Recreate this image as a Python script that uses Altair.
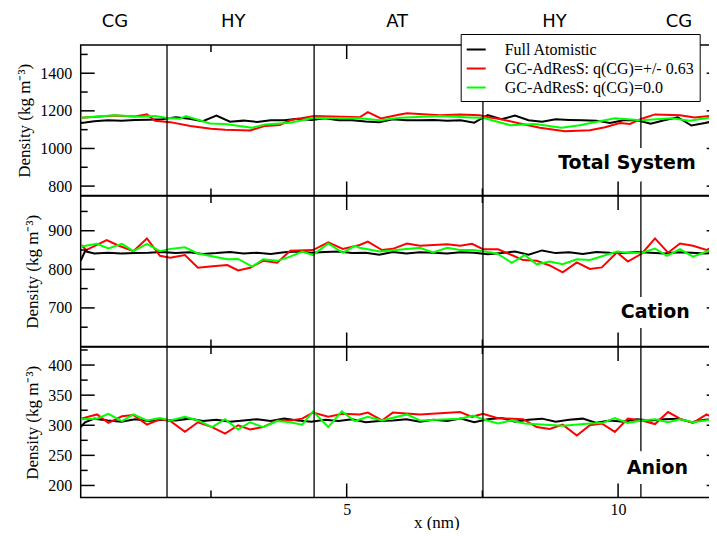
import altair as alt
import pandas as pd

SERIES = ["Full Atomistic", "GC-AdResS: q(CG)=+/- 0.63", "GC-AdResS: q(CG)=0.0"]
COLORS = ["#000000", "#ff0000", "#00ff00"]

REGION_LABELS = ["CG", "HY", "AT", "HY", "CG"]
REGION_LABEL_X = [0.73, 2.91, 5.93, 8.83, 11.12]
BOUNDARIES = [1.69, 4.40, 7.51, 10.42]

# Full atomistic (black) — common x grid
x_fa = [0.10, 0.18, 0.35, 0.60, 0.85, 1.10, 1.35, 1.60, 1.85, 2.10, 2.35, 2.60, 2.85, 3.10, 3.35,
        3.60, 3.85, 4.10, 4.35, 4.60, 4.85, 5.10, 5.35, 5.60, 5.85, 6.10, 6.35, 6.60, 6.85, 7.10,
        7.35, 7.60, 7.85, 8.10, 8.35, 8.60, 8.85, 9.10, 9.35, 9.60, 9.85, 10.10, 10.35, 10.60,
        10.85, 11.10, 11.35, 11.60, 11.85]
tot_fa = [1136, 1138, 1145, 1150, 1148, 1152, 1153, 1155, 1166, 1158, 1145, 1175, 1142, 1148, 1141,
          1150, 1150, 1158, 1152, 1160, 1150, 1150, 1143, 1140, 1155, 1150, 1150, 1152, 1148, 1150,
          1137, 1178, 1155, 1175, 1150, 1142, 1155, 1152, 1150, 1148, 1136, 1150, 1150, 1132, 1150,
          1166, 1122, 1135, 1152]
cat_fa = [822, 847, 841, 843, 841, 842, 843, 845, 842, 844, 840, 842, 845, 841, 843, 840, 844, 846,
          843, 845, 846, 842, 843, 838, 845, 841, 844, 843, 841, 844, 843, 839, 842, 846, 838, 849,
          842, 844, 840, 845, 843, 842, 845, 843, 841, 844, 843, 841, 844]
ani_fa = [297, 305, 311, 308, 306, 310, 307, 309, 308, 311, 307, 309, 306, 308, 310, 307, 311, 308,
          306, 309, 307, 310, 305, 307, 308, 310, 306, 309, 307, 311, 305, 310, 312, 306, 309, 311,
          306, 309, 311, 304, 308, 306, 310, 308, 310, 311, 305, 309, 311]

# Total system
tot_red_x = [0.11, 0.73, 1.10, 1.32, 1.47, 1.75, 2.12, 2.50, 2.76, 3.22, 3.50, 3.77, 3.96, 4.14, 4.40,
             5.24, 5.39, 5.63, 5.98, 6.11, 6.72, 7.09, 7.45, 7.64, 7.82, 8.19, 8.56, 9.02, 9.48, 9.76,
             10.03, 10.22, 10.42, 10.68, 11.14, 11.41, 11.85]
tot_red_y = [1163, 1175, 1170, 1181, 1147, 1140, 1120, 1105, 1100, 1096, 1120, 1125, 1150, 1160, 1172,
             1166, 1193, 1160, 1181, 1187, 1177, 1181, 1177, 1165, 1157, 1133, 1110, 1092, 1097, 1113,
             1135, 1130, 1157, 1181, 1177, 1165, 1177]
tot_grn_x = [0.11, 0.73, 1.19, 1.47, 1.66, 1.93, 2.04, 2.48, 2.76, 3.26, 3.50, 3.96, 4.40, 5.24, 5.61,
             5.98, 6.72, 7.27, 7.51, 8.01, 8.47, 8.96, 9.29, 9.94, 10.42, 10.99, 11.32, 11.85]
tot_grn_y = [1163, 1177, 1168, 1172, 1163, 1158, 1172, 1133, 1130, 1110, 1128, 1137, 1163, 1160, 1150,
             1163, 1172, 1165, 1163, 1124, 1130, 1110, 1124, 1160, 1150, 1160, 1147, 1172]

# Cation
cat_red_x = [0.11, 0.20, 0.58, 0.77, 1.07, 1.32, 1.56, 1.75, 2.02, 2.26, 2.48, 2.80, 3.00, 3.22, 3.46,
             3.72, 3.96, 4.38, 4.66, 4.93, 5.24, 5.39, 5.65, 5.85, 6.11, 6.35, 6.85, 7.09, 7.31, 7.51,
             7.79, 8.04, 8.25, 8.50, 8.74, 8.98, 9.24, 9.48, 9.70, 9.98, 10.18, 10.44, 10.68, 10.92,
             11.14, 11.38, 11.63, 11.85]
cat_red_y = [863, 850, 876, 863, 847, 880, 835, 830, 837, 804, 807, 811, 797, 804, 822, 817, 848, 850,
             870, 853, 863, 872, 850, 853, 867, 861, 865, 861, 866, 852, 852, 837, 824, 822, 810, 792,
             818, 801, 805, 844, 820, 841, 880, 843, 867, 861, 850, 867]
cat_grn_x = [0.11, 0.40, 0.61, 0.86, 1.07, 1.32, 1.56, 1.75, 2.02, 2.26, 2.80, 3.00, 3.26, 3.46, 3.72,
             3.96, 4.18, 4.38, 4.66, 4.93, 5.15, 5.24, 5.61, 6.35, 6.59, 6.85, 7.09, 7.33, 7.51, 7.77,
             8.04, 8.28, 8.50, 8.74, 8.98, 9.24, 9.48, 9.98, 10.16, 10.44, 10.68, 10.90, 11.14, 11.38,
             11.63, 11.85]
cat_grn_y = [859, 866, 854, 866, 847, 866, 847, 853, 857, 841, 826, 827, 807, 826, 822, 833, 846, 837,
             867, 843, 861, 856, 846, 856, 844, 856, 850, 850, 847, 841, 817, 837, 813, 820, 813, 826,
             824, 846, 843, 843, 854, 835, 852, 833, 846, 856]

# Anion
ani_red_x = [0.11, 0.40, 0.61, 0.86, 1.07, 1.32, 1.56, 1.75, 2.02, 2.26, 2.52, 2.76, 3.00, 3.22, 3.46,
             3.72, 3.96, 4.18, 4.38, 4.66, 4.93, 5.24, 5.39, 5.65, 5.85, 6.35, 7.09, 7.31, 7.51, 7.77,
             8.25, 8.50, 8.74, 8.98, 9.24, 9.48, 9.70, 9.94, 10.18, 10.44, 10.68, 10.92, 11.14, 11.38,
             11.63, 11.85]
ani_red_y = [311, 318, 304, 315, 317, 301, 310, 307, 289, 305, 297, 286, 300, 293, 297, 308, 308, 311,
             321, 314, 319, 318, 321, 308, 321, 318, 322, 314, 319, 312, 310, 297, 294, 301, 283, 300,
             303, 289, 311, 308, 302, 322, 311, 304, 318, 308]
ani_grn_x = [0.11, 0.40, 0.61, 0.86, 1.07, 1.32, 1.56, 1.75, 2.02, 2.26, 2.52, 2.76, 3.00, 3.22, 3.46,
             3.72, 3.96, 4.18, 4.38, 4.66, 4.91, 5.15, 5.39, 5.65, 6.11, 6.35, 7.09, 7.33, 7.51, 7.79,
             8.04, 8.28, 8.98, 9.48, 9.72, 9.94, 10.18, 10.44, 10.68, 10.92, 11.14, 11.38, 11.85]
ani_grn_y = [310, 311, 319, 307, 318, 308, 312, 308, 314, 308, 297, 310, 293, 305, 297, 307, 305, 301,
             323, 297, 323, 307, 314, 308, 318, 308, 311, 316, 310, 303, 308, 303, 299, 303, 304, 312,
             304, 308, 310, 305, 310, 305, 311]

X_DOMAIN = [0.1, 11.89]
X_MAJOR = [5, 10]
X_MINOR = [2.5, 7.5]
X_TITLE = "x (nm)"
X_TITLE_AT = 6.66

W = 640
H = 150.5
SERIF = "Liberation Serif"
SANS = "DejaVu Sans"


def series_df(fa, red_x, red_y, grn_x, grn_y):
    parts = [
        pd.DataFrame({"x": x_fa, "y": fa, "series": SERIES[0], "k": 0}),
        pd.DataFrame({"x": red_x, "y": red_y, "series": SERIES[1], "k": 1}),
        pd.DataFrame({"x": grn_x, "y": grn_y, "series": SERIES[2], "k": 2}),
    ]
    return pd.concat(parts, ignore_index=True)


def panel(df, ydom, ymajor, yminor, label, label_pos, top=False, bottom=False):
    xs = alt.Scale(domain=X_DOMAIN, nice=False, zero=False)
    ys = alt.Scale(domain=ydom, nice=False, zero=False)
    xaxis = alt.Axis(values=X_MAJOR, ticks=False, domain=False, grid=False, labels=bottom,
                     labelPadding=4, title=None, format="d")
    yaxis = alt.Axis(values=ymajor, ticks=False, domain=False, grid=False, labelPadding=9,
                     title="Density (kg m⁻³)", titlePadding=6, format="d")

    def X(f):
        return alt.X(f, scale=xs, axis=xaxis)

    def Y(f):
        return alt.Y(f, scale=ys, axis=yaxis)

    lines = alt.Chart(df).mark_line(strokeWidth=2, clip=True).encode(
        x=X("x:Q"),
        y=Y("y:Q"),
        color=alt.Color("series:N", scale=alt.Scale(domain=SERIES, range=COLORS),
                        legend=alt.Legend(orient="none", legendX=380, legendY=-11, title=None,
                                          fillColor="white", strokeColor="black", padding=5,
                                          labelFont=SERIF, labelFontSize=16, labelColor="black",
                                          symbolType="stroke", symbolSize=361, symbolStrokeWidth=2,
                                          rowPadding=0, labelOffset=18, labelLimit=400)),
        detail="k:N",
        order="x:Q",
    )
    bnd = alt.Chart(pd.DataFrame({"b": BOUNDARIES})).mark_rule(color="black", strokeWidth=1.3).encode(
        x=X("b:Q"))
    lab_df = pd.DataFrame({"x": [label_pos[0]], "y": [label_pos[1]], "t": [label]})
    halo = alt.Chart(lab_df).mark_text(align="right", baseline="alphabetic", font=SANS,
                                       fontWeight="bold", fontSize=19, fill="white", stroke="white",
                                       strokeWidth=20, strokeJoin="round").encode(
        x=X("x:Q"), y=Y("y:Q"), text="t:N")
    txt = alt.Chart(lab_df).mark_text(align="right", baseline="alphabetic", font=SANS,
                                      fontWeight="bold", fontSize=19, color="black").encode(
        x=X("x:Q"), y=Y("y:Q"), text="t:N")

    ymaj = pd.DataFrame({"v": ymajor})
    ymin = pd.DataFrame({"v": yminor})
    xmaj = pd.DataFrame({"v": X_MAJOR})
    xmin = pd.DataFrame({"v": X_MINOR})
    tick_layers = []
    for d, L in ((ymaj, 14), (ymin, 7)):
        tick_layers.append(alt.Chart(d).mark_rule(color="black", strokeWidth=1.5).encode(
            y=Y("v:Q"), x=alt.value(0), x2=alt.value(L)))
        tick_layers.append(alt.Chart(d).mark_rule(color="black", strokeWidth=1.5).encode(
            y=Y("v:Q"), x=alt.value(W), x2=alt.value(W - L)))
    for d, L in ((xmaj, 14), (xmin, 7)):
        tick_layers.append(alt.Chart(d).mark_rule(color="black", strokeWidth=1.5).encode(
            x=X("v:Q"), y=alt.value(0), y2=alt.value(L)))
        tick_layers.append(alt.Chart(d).mark_rule(color="black", strokeWidth=1.5).encode(
            x=X("v:Q"), y=alt.value(H), y2=alt.value(H - L)))

    layers = [lines, bnd, halo, txt] + tick_layers
    if top:
        reg = alt.Chart(pd.DataFrame({"x": REGION_LABEL_X, "t": REGION_LABELS})).mark_text(
            font=SANS, fontSize=18, color="black", baseline="middle", align="center").encode(
            x=X("x:Q"), y=alt.value(-23), text="t:N")
        layers.append(reg)
    if bottom:
        xt = alt.Chart(pd.DataFrame({"x": [X_TITLE_AT], "t": [X_TITLE]})).mark_text(
            font=SERIF, fontSize=17, color="black", baseline="alphabetic", align="center").encode(
            x=X("x:Q"), y=alt.value(H + 30.5), text="t:N")
        layers.append(xt)
    return alt.layer(*layers).properties(width=W, height=H)


p1 = panel(series_df(tot_fa, tot_red_x, tot_red_y, tot_grn_x, tot_grn_y), [750, 1550],
           [800, 1000, 1200, 1400], [900, 1100, 1300, 1500], "Total System", (11.43, 891), top=True)
p2 = panel(series_df(cat_fa, cat_red_x, cat_red_y, cat_grn_x, cat_grn_y), [600, 990],
           [700, 800, 900], [650, 750, 850, 950], "Cation", (11.32, 673))
p3 = panel(series_df(ani_fa, ani_red_x, ani_red_y, ani_grn_x, ani_grn_y), [180, 430],
           [200, 250, 300, 350, 400], [225, 275, 325, 375, 425], "Anion", (11.29, 219), bottom=True)

chart = alt.vconcat(p1, p2, p3, spacing=0, bounds="flush").resolve_scale(
    color="shared").resolve_legend(color="shared").properties(
    padding={"left": 6.7, "top": 4, "right": -14, "bottom": -2.5}, background="white"
).configure_view(stroke="black", strokeWidth=1.5).configure_axis(
    labelFont=SERIF, labelFontSize=16, labelColor="black", titleFont=SERIF, titleFontSize=17,
    titleFontWeight="normal", titleColor="black"
)

chart.save("out.html", embed_options={"renderer": "svg", "actions": False})
